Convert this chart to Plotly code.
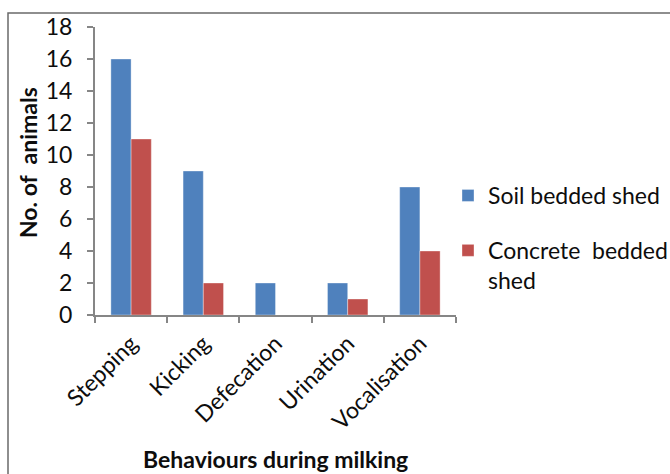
import plotly.graph_objects as go

# Observed behaviours of animals during milking, by shed bedding type
behaviours = ["Stepping", "Kicking", "Defecation", "Urination", "Vocalisation"]
soil_bedded = [16, 9, 2, 2, 8]
concrete_bedded = [11, 2, 0, 1, 4]
y_ticks = [0, 2, 4, 6, 8, 10, 12, 14, 16, 18]

W, H = 670, 474
L, R, T, B = 95, 214, 27, 159
pw, ph = W - L - R, H - T - B

def px_x(p):
    return (p - L) / pw

def px_y(p):
    return (H - B - p) / ph

FONT = "Lato, Carlito, Calibri, sans-serif"
AXIS_GREY = "#868686"
TEXT = "#0d0d0d"
FS = 23

fig = go.Figure()
fig.add_trace(go.Bar(
    x=behaviours, y=soil_bedded, name="Soil bedded shed",
    legendgroup="soil",
    marker=dict(color="#4F81BD", line=dict(color="rgba(255,255,255,0.35)", width=1)),
))
fig.add_trace(go.Bar(
    x=behaviours, y=concrete_bedded, name="Concrete\u00a0 bedded<br>shed",
    legendgroup="concrete",
    marker=dict(color="#C0504D", line=dict(color="rgba(255,255,255,0.35)", width=1)),
))

fig.update_layout(
    width=W, height=H,
    margin=dict(l=L, r=R, t=T, b=B, autoexpand=False),
    paper_bgcolor="white", plot_bgcolor="white",
    barmode="group", bargap=0.44, bargroupgap=0,
    font=dict(family=FONT, size=FS, color=TEXT),
    showlegend=True,
    legend=dict(
        x=px_x(448), y=px_y(174), xanchor="left", yanchor="top",
        font=dict(family=FONT, size=FS, color=TEXT),
        tracegroupgap=22, valign="top", bgcolor="rgba(0,0,0,0)",
    ),
    xaxis=dict(
        type="category", range=[-0.5, 4.5],
        showline=True, linecolor=AXIS_GREY, linewidth=2,
        ticks="outside", tickson="boundaries", ticklen=6,
        tickcolor=AXIS_GREY, tickwidth=2,
        tickangle=-45, tickfont=dict(family=FONT, size=FS, color=TEXT),
        ticklabelstandoff=4,
        showgrid=False, zeroline=False,
    ),
    yaxis=dict(
        range=[0, 18], tickmode="array", tickvals=y_ticks,
        showline=True, linecolor=AXIS_GREY, linewidth=2,
        ticks="outside", ticklen=6, tickcolor=AXIS_GREY, tickwidth=2,
        tickfont=dict(family=FONT, size=FS, color=TEXT),
        ticklabelstandoff=10,
        showgrid=False, zeroline=False,
    ),
    annotations=[
        dict(text="<b>No. of  animals</b>", xref="paper", yref="paper",
             x=px_x(28), y=px_y(163), xanchor="center", yanchor="middle",
             textangle=-90, showarrow=False,
             font=dict(family=FONT, size=FS, color=TEXT)),
        dict(text="<b>Behaviours during milking</b>", xref="paper", yref="paper",
             x=px_x(275), y=px_y(459), xanchor="center", yanchor="middle",
             showarrow=False,
             font=dict(family=FONT, size=FS, color=TEXT)),
    ],
    shapes=[
        dict(type="rect", xref="paper", yref="paper",
             x0=px_x(8), x1=px_x(W + 5), y0=px_y(H + 5), y1=px_y(13),
             line=dict(color="#6a6a6a", width=1.5), fillcolor="rgba(0,0,0,0)",
             layer="below"),
    ],
)

fig.write_html("out.html")
